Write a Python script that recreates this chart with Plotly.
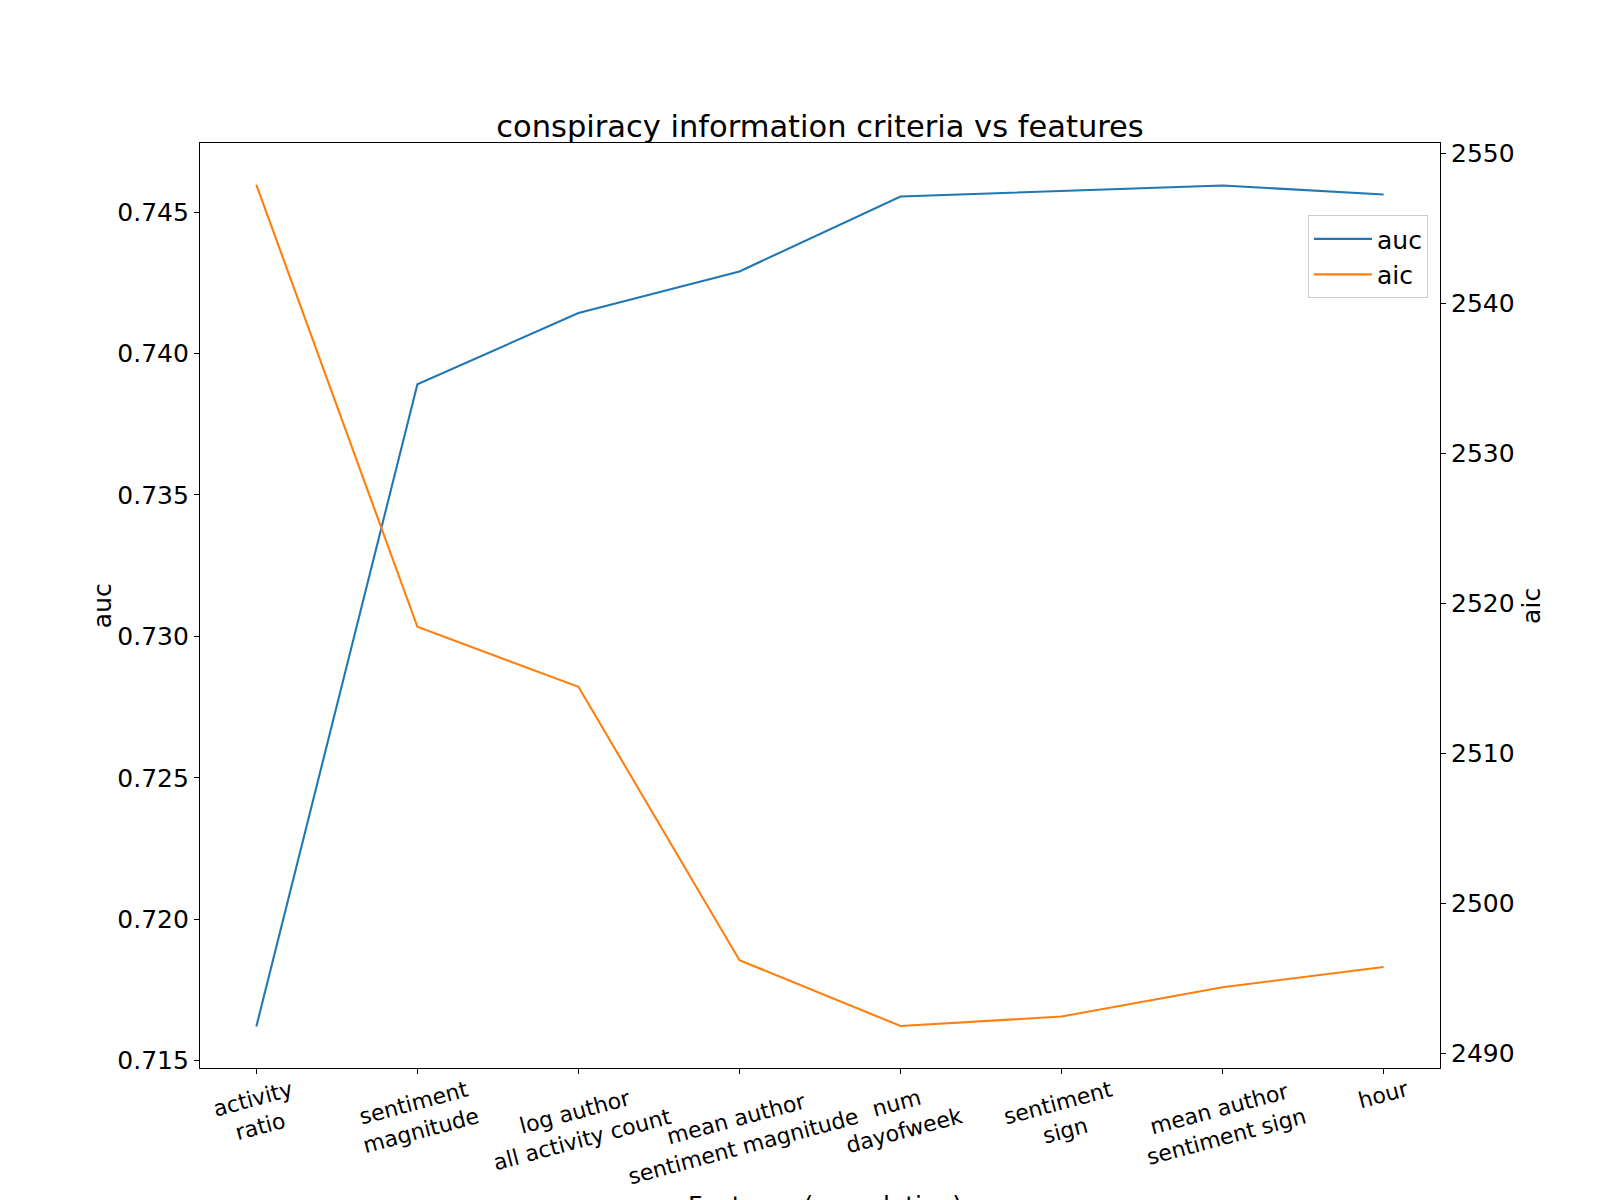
import plotly.graph_objects as go

features = [
    "activity ratio",
    "sentiment magnitude",
    "log author all activity count",
    "mean author sentiment magnitude",
    "num dayofweek",
    "sentiment sign",
    "mean author sentiment sign",
    "hour",
]
tick_labels = [
    "activity<br>ratio",
    "sentiment<br>magnitude",
    "log author<br>all activity count",
    "mean author<br>sentiment magnitude",
    "num<br>dayofweek",
    "sentiment<br>sign",
    "mean author<br>sentiment sign",
    "hour",
]
auc = [0.71621, 0.73891, 0.74143, 0.74290, 0.74555, 0.74575, 0.74594, 0.74562]
aic = [2547.89, 2518.44, 2514.44, 2496.22, 2491.84, 2492.47, 2494.42, 2495.77]

FONT = "DejaVu Sans"
BLUE = "#1f77b4"
ORANGE = "#ff7f0e"

# the page body adds an 8px margin, so the figure is 8px smaller each way
W, H = 1592, 1192

fig = go.Figure()
fig.add_trace(go.Scatter(x=features, y=auc, name="auc", mode="lines",
                         line=dict(color=BLUE, width=2.1), yaxis="y"))
fig.add_trace(go.Scatter(x=features, y=aic, name="aic", mode="lines",
                         line=dict(color=ORANGE, width=2.1), yaxis="y2"))

annotations = []
for f, lab in zip(features, tick_labels):
    annotations.append(dict(
        x=f, xref="x", y=-0.006, yref="paper",
        text=lab, showarrow=False, textangle=-15,
        xanchor="center", yanchor="top",
        font=dict(family=FONT, size=22, color="black"),
    ))
annotations.append(dict(
    x=0.504, xref="paper", y=-0.131, yref="paper",
    text="Features (cumulative)", showarrow=False,
    xanchor="center", yanchor="top",
    font=dict(family=FONT, size=25, color="black"),
))
annotations.append(dict(
    x=-0.0785, xref="paper", y=0.5, yref="paper",
    text="auc", showarrow=False, textangle=-90,
    xanchor="center", yanchor="middle",
    font=dict(family=FONT, size=25, color="black"),
))
annotations.append(dict(
    x=1.0737, xref="paper", y=0.5, yref="paper",
    text="aic", showarrow=False, textangle=-90,
    xanchor="center", yanchor="middle",
    font=dict(family=FONT, size=25, color="black"),
))

fig.update_layout(
    width=W, height=H,
    margin=dict(l=192, r=160, t=135, b=132, pad=0),
    paper_bgcolor="white", plot_bgcolor="white",
    font=dict(family=FONT, size=25, color="black"),
    title=dict(text="conspiracy information criteria vs features",
               x=812 / W, xanchor="center", xref="container",
               y=1 - 118 / H, yanchor="middle", yref="container",
               font=dict(family=FONT, size=30.5, color="black")),
    showlegend=True,
    legend=dict(x=0.9903, xanchor="right", y=0.922, yanchor="top",
                bgcolor="white", bordercolor="#cccccc", borderwidth=1,
                itemwidth=58,
                font=dict(family=FONT, size=25, color="black")),
    xaxis=dict(
        type="category", range=[-0.35, 7.35],
        showticklabels=False, ticks="outside", ticklen=5, tickwidth=1.1,
        tickcolor="black", showline=True, linecolor="black", linewidth=1.1,
        mirror=True, showgrid=False, zeroline=False,
    ),
    yaxis=dict(
        range=[0.71474, 0.74744], dtick=0.005, tick0=0.715, tickformat=".3f",
        ticks="outside", ticklen=5, tickwidth=1.1, tickcolor="black",
        showline=True, linecolor="black", linewidth=1.1,
        showgrid=False, zeroline=False,
        tickfont=dict(family=FONT, size=25, color="black"),
    ),
    yaxis2=dict(
        range=[2489.04, 2550.68], dtick=10, tick0=2490,
        overlaying="y", side="right",
        ticks="outside", ticklen=5, tickwidth=1.1, tickcolor="black",
        showline=True, linecolor="black", linewidth=1.1,
        showgrid=False, zeroline=False,
        tickfont=dict(family=FONT, size=25, color="black"),
    ),
    annotations=annotations,
)

fig.write_html("out.html")
